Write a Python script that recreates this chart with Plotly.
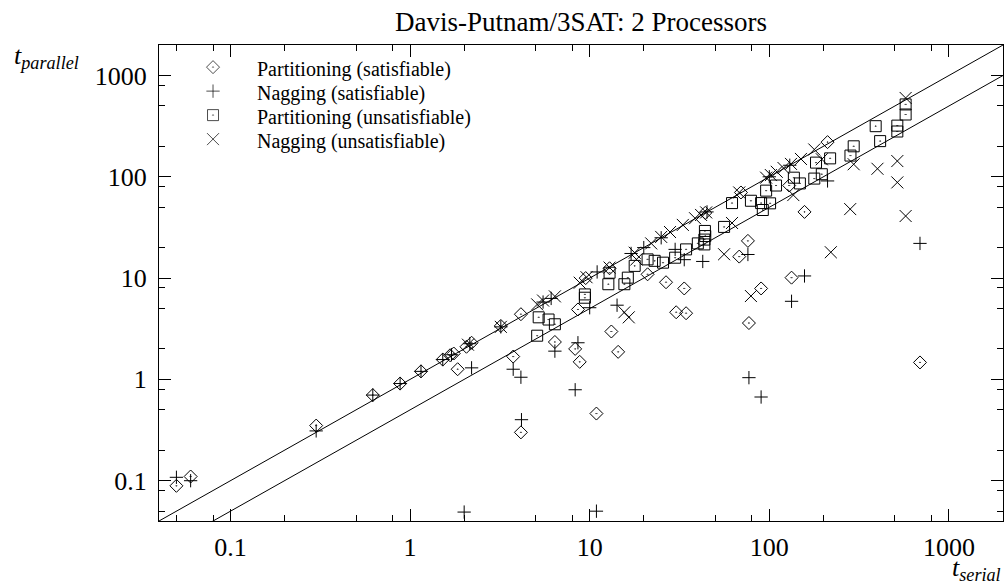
import math

import plotly.graph_objects as go

# serial vs parallel run times (seconds)
part_sat_serial = [0.05, 0.06, 0.3, 0.62, 0.88, 1.15, 1.52, 1.67, 1.75, 1.84, 2.06, 2.2,
                   3.2, 3.75, 4.14, 4.14, 6.4, 8.3, 8.6, 8.8, 9.5, 10.9, 12.9, 13.2,
                   14.4, 21, 26.6, 30.3, 33.6, 34.4, 44, 68, 69.5, 76, 77, 90, 129,
                   133, 157, 211, 690]
part_sat_parallel = [0.089, 0.11, 0.35, 0.70, 0.91, 1.2, 1.57, 1.73, 1.8, 1.26, 2.1, 2.3,
                     3.37, 1.68, 4.4, 0.30, 2.34, 2.0, 4.9, 1.49, 10.0, 0.46, 12.5, 2.97,
                     1.87, 10.9, 9.1, 4.6, 7.9, 4.5, 44, 16.3, 70, 23.3, 3.6, 7.9, 82,
                     10.1, 45, 220, 1.47]

nag_sat_serial = [0.05, 0.06, 0.3, 0.62, 0.88, 1.15, 1.52, 1.7, 2.0, 2.2, 2.15, 3.2,
                  3.75, 4.14, 4.17, 5.5, 6.1, 6.4, 8.3, 8.6, 10, 10.9, 14.2, 11, 17,
                  20, 25, 29.9, 33.6, 42.6, 45, 76, 77, 90, 100, 130, 133, 157, 211, 690]
nag_sat_parallel = [0.108, 0.10, 0.31, 0.70, 0.91, 1.2, 1.57, 1.75, 0.049, 1.3, 2.25, 3.3,
                    1.26, 1.05, 0.40, 5.8, 6.3, 1.9, 0.79, 2.3, 5.1, 0.05, 5.4, 11.5, 17.5,
                    20, 25, 19.2, 15.2, 14.6, 45, 17.1, 1.04, 0.67, 100, 130, 5.9, 10.5, 91, 22]

part_unsat_serial = [5.1, 5.2, 5.9, 6.4, 9.4, 9.4, 12.7, 12.9, 15.6, 16.3, 17.8, 21, 23,
                     25.6, 29.9, 34.4, 40, 43.5, 43.5, 43.8, 44, 56, 62, 79, 90, 92, 101,
                     96, 109, 137, 148, 178, 182, 196, 218, 283, 295, 391, 414, 516, 516,
                     574, 574]
part_unsat_parallel = [2.7, 4.1, 3.9, 3.5, 6.9, 6.4, 8.7, 11.3, 8.7, 10.1, 13.2, 15.3, 14.8,
                       14.2, 15.9, 19.2, 22, 21.5, 24, 29.2, 26, 32, 55, 58, 55, 47, 54.7,
                       73, 82, 98, 86, 96, 138, 106, 152, 162, 200, 316, 225, 320, 280,
                       518, 412]

nag_unsat_serial = [2.1, 3.2, 5.1, 5.5, 6.4, 8.8, 9.6, 12.9, 15.6, 16.5, 17.8, 18.2, 22,
                    25, 28, 33, 38.6, 41.7, 44.5, 56, 62, 68, 79, 96, 102, 110, 120, 132,
                    136, 150, 178, 196, 220, 282, 295, 400, 516, 516, 574, 574]
nag_unsat_parallel = [2.2, 3.3, 5.5, 6.0, 6.6, 9.0, 10.2, 12.7, 4.6, 4.1, 17.8, 15.3, 22,
                      25.5, 28.5, 33.5, 39, 42, 44.5, 17.2, 35, 70, 6.65, 98, 104, 112, 122,
                      134, 66, 150, 186, 149, 18, 48, 133, 120, 143, 88, 41, 600]

axis_range = [0.04, 2000]
speedups = [1, 2]  # reference lines t_parallel = t_serial / s
major_ticks = [0.1, 1, 10, 100, 1000]
minor_ticks = [0.05, 0.08, 0.2, 0.5, 0.8, 2, 5, 8, 20, 50, 80, 200, 500, 800]

FONT = "Liberation Serif, Times New Roman, serif"

series = [
    ("Partitioning (satisfiable)", part_sat_serial, part_sat_parallel, "diamond-open-dot", 10),
    ("Nagging (satisfiable)", nag_sat_serial, nag_sat_parallel, "cross-thin-open", 9.5),
    ("Partitioning (unsatisfiable)", part_unsat_serial, part_unsat_parallel, "square-open-dot", 11),
    ("Nagging (unsatisfiable)", nag_unsat_serial, nag_unsat_parallel, "x-thin-open", 12),
]

fig = go.Figure()

for s in speedups:
    fig.add_trace(go.Scatter(
        x=axis_range, y=[v / s for v in axis_range], mode="lines",
        line=dict(color="black", width=1), showlegend=False, hoverinfo="skip",
    ))

for name, xs, ys, symbol, size in series:
    fig.add_trace(go.Scatter(
        x=xs, y=ys, mode="markers", name=name, showlegend=False,
        marker=dict(symbol=symbol, size=size, color="black",
                    line=dict(color="black", width=1)),
    ))

# hand-drawn legend (rows are tighter than plotly's own legend allows)
leg_x, leg_text_x, leg_top, leg_step = 0.064, 0.1137, 0.9535, 0.0504
leg_rows = [leg_top - i * leg_step for i in range(len(series))]
fig.add_trace(go.Scatter(
    x=[leg_x] * len(series), y=leg_rows, mode="markers", xaxis="x2", yaxis="y2",
    showlegend=False, hoverinfo="skip",
    marker=dict(symbol=[s[3] for s in series], size=[s[4] for s in series],
                color="black", line=dict(color="black", width=1)),
))
annotations = [
    dict(text=s[0], xref="paper", yref="paper", x=leg_text_x, y=yy - 0.006,
         xanchor="left", yanchor="middle", showarrow=False,
         font=dict(family=FONT, size=20, color="black"))
    for s, yy in zip(series, leg_rows)
]

annotations += [
    dict(text="<i>t</i><sub><i>parallel</i></sub>", xref="paper", yref="paper",
         x=-0.174, y=0.975, xanchor="left", yanchor="middle", showarrow=False,
         font=dict(family=FONT, size=26, color="black")),
    dict(text="<i>t</i><sub><i>serial</i></sub>", xref="paper", yref="paper",
         x=1.0, y=-0.1, xanchor="right", yanchor="middle", showarrow=False,
         font=dict(family=FONT, size=26, color="black")),
]

axis_common = dict(
    type="log",
    range=[math.log10(axis_range[0]), math.log10(axis_range[1])],
    tickvals=major_ticks,
    ticktext=[f"{v:g}" for v in major_ticks],
    ticks="inside", ticklen=12, tickwidth=1, tickcolor="black",
    minor=dict(tickvals=minor_ticks, ticks="inside", ticklen=6,
               tickwidth=1, tickcolor="black", showgrid=False),
    showline=True, linecolor="black", linewidth=1, mirror="ticks",
    showgrid=False, zeroline=False,
    tickfont=dict(family=FONT, size=26, color="black"),
)

fig.update_layout(
    width=1004, height=584,
    margin=dict(l=159, r=1, t=45, b=63),
    paper_bgcolor="white", plot_bgcolor="white",
    title=dict(text="Davis-Putnam/3SAT: 2 Processors", x=0.5787, xanchor="center",
               y=0.947, yanchor="bottom",
               font=dict(family=FONT, size=27, color="black")),
    xaxis=dict(axis_common, ticklabelstandoff=3),
    yaxis=dict(axis_common, ticklabelstandoff=6),
    xaxis2=dict(overlaying="x", range=[0, 1], visible=False),
    yaxis2=dict(overlaying="y", range=[0, 1], visible=False),
    showlegend=False,
    annotations=annotations,
)

fig.write_html("out.html", config={"displayModeBar": False},
               post_script="document.body.style.margin='0';"
                           "document.body.style.overflow='hidden';")
